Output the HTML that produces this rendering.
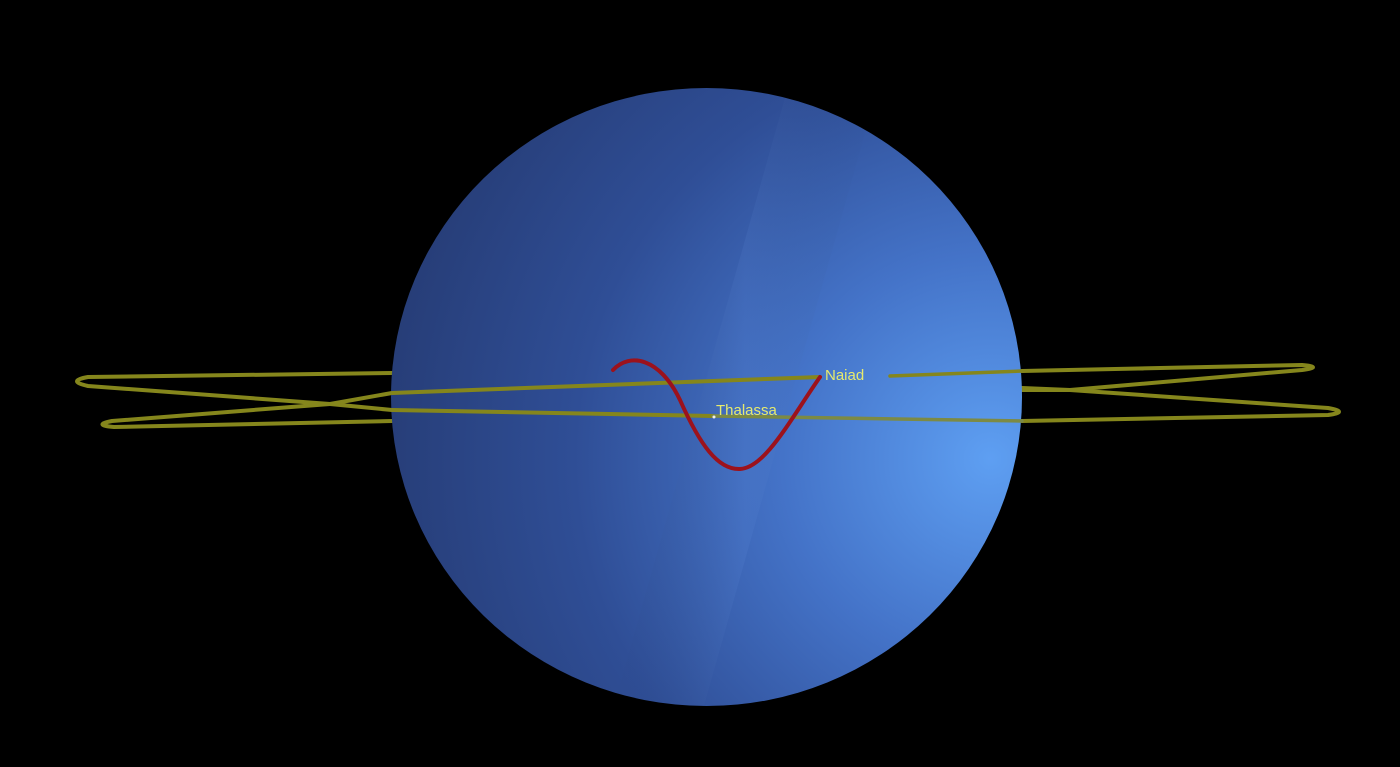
<!DOCTYPE html>
<html><head><meta charset="utf-8"><style>
html,body{margin:0;padding:0;background:#000;width:1400px;height:767px;overflow:hidden}
svg{display:block}
text{font-family:"Liberation Sans",sans-serif;font-size:15px;fill:#e6ea6e}
</style></head><body>
<svg width="1400" height="767" viewBox="0 0 1400 767">
<defs>
<radialGradient id="pg" cx="0.95" cy="0.6" r="1.1">
<stop offset="0" stop-color="#5e9ff2"/>
<stop offset="0.3" stop-color="#4473c8"/>
<stop offset="0.6" stop-color="#2f4e96"/>
<stop offset="1" stop-color="#23366a"/>
</radialGradient>
<linearGradient id="band" x1="0" y1="0" x2="1" y2="0">
<stop offset="0" stop-color="#000" stop-opacity="0"/>
<stop offset="0.5" stop-color="#7fb0ff" stop-opacity="0.08"/>
<stop offset="1" stop-color="#000" stop-opacity="0"/>
</linearGradient>
<clipPath id="pc"><ellipse cx="706.5" cy="397" rx="315.5" ry="309"/></clipPath>
</defs>
<rect width="1400" height="767" fill="#000"/>
<g fill="none" stroke="#85861c" stroke-width="4" stroke-linecap="round" stroke-linejoin="round">
<path d="M392,373 L88,377 Q66,381 88,386 L330,404 L392,410"/>
<path d="M392,393 L330,404 L112,421 Q92,425 114,427 L392,421"/>
<path d="M1022,371 L1302,365 Q1324,367 1302,370 L1070,390 L1022,390"/>
<path d="M1022,388 L1070,390 L1328,408 Q1350,412 1328,415 L1022,421"/>
</g>
<ellipse cx="706.5" cy="397" rx="315.5" ry="309" fill="url(#pg)"/>
<g clip-path="url(#pc)">
<polygon points="790,80 880,80 700,720 610,720" fill="url(#band)"/>
</g>
<g fill="none" stroke-linecap="round">
<path d="M392,393 L820,377" stroke="#85861c" stroke-width="4"/>
<path d="M890,376 L1022,371" stroke="#85861c" stroke-width="3.5"/>
<path d="M392,410 L713,416" stroke="#85861c" stroke-width="4"/>
<path d="M713,416 L1022,421" stroke="#7c8a45" stroke-width="3.5"/>
</g>
<path d="M613,370 C630,352 660,358 680,400 C700,445 718,470 740,469 C765,468 790,420 820,377" fill="none" stroke="#9c121c" stroke-width="4" stroke-linecap="round"/>
<text x="825" y="380">Naiad</text>
<circle cx="714" cy="417" r="1.5" fill="#eee"/>
<text x="716" y="415">Thalassa</text>
</svg>
</body></html>
